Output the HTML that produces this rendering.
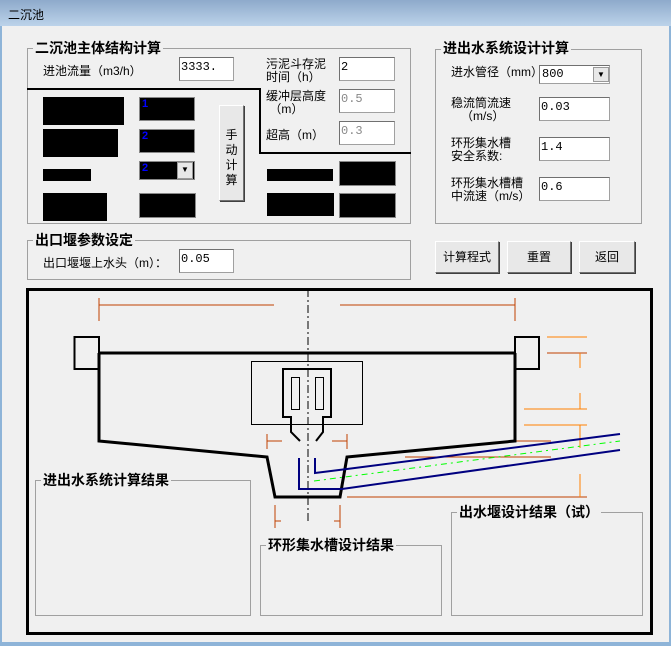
<!DOCTYPE html>
<html><head><meta charset="utf-8"><style>
*{margin:0;padding:0;box-sizing:border-box}
body{width:671px;height:646px;position:relative;background:#f0f0f0;font-family:"Liberation Sans","Noto Sans CJK SC",sans-serif;font-size:12px;color:#000;overflow:hidden}
.a{position:absolute}
.grp{position:absolute;border:1px solid #a0a0a0}
.gt{position:absolute;background:#f0f0f0;font-weight:bold;font-size:14px;padding:0 2px;line-height:16px;white-space:nowrap}
.lb{position:absolute;line-height:13px;white-space:nowrap;font-size:12px}
.in{position:absolute;background:#fff;border:1px solid #a0a0a0;border-top-color:#707070;border-left-color:#707070;font-family:"Liberation Mono",monospace;font-size:12px;padding:2px 1px;line-height:14px}
.blk{position:absolute;background:#000}
.bin{position:absolute;background:#000;border:1px solid #888;color:#00f;font-size:11px;padding:0 2px;font-weight:bold}
.btn{position:absolute;background:#e8e8e8;border:1px solid #707070;border-top-color:#fff;border-left-color:#fff;box-shadow:1px 1px 0 #404040;text-align:center;font-size:12px}
.dd{position:absolute;width:16px;background:#e8e8e8;border:1px solid #999;font-size:8px;text-align:center;line-height:14px}
</style></head><body>
<div class="a" style="left:0;top:0;width:671px;height:26px;background:linear-gradient(#8eaacb,#bcd3ea)"></div>
<div class="a" style="left:8px;top:6px;font-size:12px">二沉池</div>
<div class="a" style="left:0;top:26px;width:2px;height:620px;background:#8eb4d8"></div>
<div class="a" style="left:669px;top:26px;width:2px;height:620px;background:#8eb4d8"></div>
<div class="a" style="left:0;top:642px;width:671px;height:4px;background:#8eb4d8"></div>

<!-- group 1 -->
<div class="grp" style="left:27px;top:48px;width:384px;height:176px"></div>
<div class="gt" style="left:33px;top:40px">二沉池主体结构计算</div>
<div class="lb" style="left:43px;top:65px">进池流量（m3/h）</div>
<div class="in" style="left:179px;top:57px;width:55px;height:24px">3333.</div>
<div class="lb" style="left:266px;top:58px">污泥斗存泥<br>时间（h）</div>
<div class="in" style="left:339px;top:57px;width:56px;height:24px">2</div>
<div class="lb" style="left:266px;top:90px">缓冲层高度<br>&nbsp;（m）</div>
<div class="in" style="left:339px;top:89px;width:56px;height:24px;color:#888">0.5</div>
<div class="lb" style="left:266px;top:129px">超高（m）</div>
<div class="in" style="left:339px;top:121px;width:56px;height:24px;color:#888">0.3</div>
<div class="a" style="left:27px;top:88px;width:233px;height:2px;background:#000"></div>
<div class="a" style="left:259px;top:88px;width:2px;height:66px;background:#000"></div>
<div class="a" style="left:259px;top:152px;width:152px;height:2px;background:#000"></div>
<div class="blk" style="left:43px;top:97px;width:81px;height:28px"></div>
<div class="blk" style="left:43px;top:129px;width:75px;height:28px"></div>
<div class="blk" style="left:43px;top:169px;width:48px;height:12px"></div>
<div class="blk" style="left:43px;top:193px;width:64px;height:28px"></div>
<div class="bin" style="left:139px;top:97px;width:56px;height:24px">1</div>
<div class="bin" style="left:139px;top:129px;width:56px;height:24px">2</div>
<div class="bin" style="left:139px;top:161px;width:56px;height:19px">2</div>
<div class="dd" style="left:177px;top:162px;height:17px">▼</div>
<div class="bin" style="left:139px;top:193px;width:57px;height:25px"></div>
<div class="btn" style="left:219px;top:105px;width:25px;height:96px;padding-top:22px;line-height:15px">手<br>动<br>计<br>算</div>
<div class="blk" style="left:267px;top:169px;width:66px;height:12px"></div>
<div class="bin" style="left:339px;top:161px;width:57px;height:25px"></div>
<div class="blk" style="left:267px;top:193px;width:67px;height:23px"></div>
<div class="bin" style="left:339px;top:193px;width:57px;height:25px"></div>

<!-- group 2 -->
<div class="grp" style="left:27px;top:240px;width:384px;height:40px"></div>
<div class="gt" style="left:33px;top:232px">出口堰参数设定</div>
<div class="lb" style="left:43px;top:257px">出口堰堰上水头（m）：</div>
<div class="in" style="left:179px;top:249px;width:55px;height:24px">0.05</div>

<!-- right group -->
<div class="grp" style="left:435px;top:49px;width:207px;height:175px"></div>
<div class="gt" style="left:441px;top:40px">进出水系统设计计算</div>
<div class="lb" style="left:451px;top:66px">进水管径（mm）</div>
<div class="in" style="left:539px;top:65px;width:71px;height:19px;padding:1px 2px">800</div>
<div class="dd" style="left:593px;top:67px;height:15px">▼</div>
<div class="lb" style="left:451px;top:97px">稳流筒流速<br>&nbsp;&nbsp;&nbsp;（m/s）</div>
<div class="in" style="left:539px;top:97px;width:71px;height:24px">0.03</div>
<div class="lb" style="left:451px;top:137px">环形集水槽<br>安全系数:</div>
<div class="in" style="left:539px;top:137px;width:71px;height:24px">1.4</div>
<div class="lb" style="left:451px;top:177px">环形集水槽槽<br>中流速（m/s）</div>
<div class="in" style="left:539px;top:177px;width:71px;height:24px">0.6</div>
<div class="btn" style="left:435px;top:241px;width:64px;height:32px;line-height:30px">计算程式</div>
<div class="btn" style="left:507px;top:241px;width:64px;height:32px;line-height:30px">重置</div>
<div class="btn" style="left:579px;top:241px;width:56px;height:32px;line-height:30px">返回</div>

<!-- drawing -->
<div class="a" style="left:26px;top:288px;width:627px;height:347px;border:3px solid #000"></div>
<svg class="a" style="left:0;top:0" width="671" height="646" viewBox="0 0 671 646">
<g stroke="#c04000" stroke-width="1" fill="none">
<path d="M99,305H274M340,305H515M99,298V321M515,298V321"/>
<path d="M267,434V449M267,441H282M347,434V449M332,441H347"/>
<path d="M275,505V528M275,521H281M340,505V528M334,521H340"/>
<path d="M547,353H587M347,497H587M515,441H551M405,457H551"/>
</g>
<g stroke="#ff8000" stroke-width="1" fill="none">
<path d="M547,337H587M580,353V368M524,409H587M580,393V409M524,425H587M580,425V448M580,474V497"/>
</g>
<path d="M308,289V523" stroke="#000" stroke-width="1" stroke-dasharray="8,3,2,3"/>
<g stroke="#000" stroke-width="2" fill="none">
<rect x="74.5" y="337" width="24.5" height="32"/>
<rect x="515" y="337" width="24" height="32"/>
</g>
<path d="M99,353H515M99,353V441L267,457L275,497H340L347,457L515,441V353" stroke="#000" stroke-width="3" fill="none"/>
<rect x="251.5" y="361.5" width="111" height="63" stroke="#000" fill="none"/>
<path d="M300,441L291,432V417H283V369H331V417H323V432L316,441" stroke="#000" stroke-width="2" fill="none"/>
<rect x="291.5" y="377.5" width="8" height="32" stroke="#000" fill="none"/>
<rect x="315.5" y="377.5" width="8" height="32" stroke="#000" fill="none"/>
<path d="M299,458V489H342L620,450" stroke="#000080" stroke-width="2" fill="none"/>
<path d="M315,458V473L347,469L620,434" stroke="#000080" stroke-width="2" fill="none"/>
<path d="M314,481L620,441" stroke="#00ff00" stroke-width="1" stroke-dasharray="6,4,2,4" fill="none"/>
</svg>
<div class="grp" style="left:35px;top:480px;width:216px;height:136px"></div>
<div class="gt" style="left:41px;top:472px">进出水系统计算结果</div>
<div class="grp" style="left:260px;top:545px;width:182px;height:71px"></div>
<div class="gt" style="left:266px;top:537px">环形集水槽设计结果</div>
<div class="grp" style="left:451px;top:512px;width:192px;height:104px"></div>
<div class="gt" style="left:457px;top:504px">出水堰设计结果（试）</div>
</body></html>
